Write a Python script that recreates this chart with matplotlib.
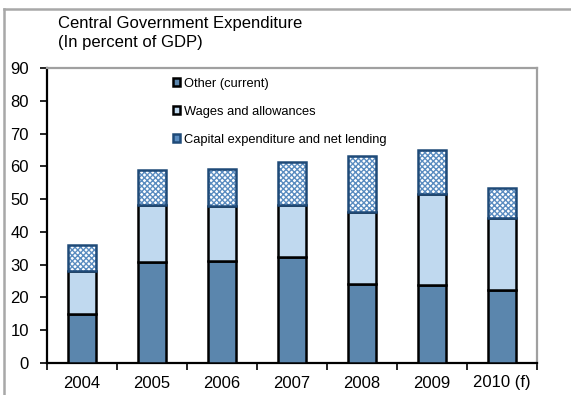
import matplotlib
matplotlib.use("Agg")
import matplotlib.pyplot as plt
from matplotlib.patches import Patch
from matplotlib.lines import Line2D
import numpy as np

plt.rcParams['font.family'] = ['Liberation Sans', 'DejaVu Sans']
plt.rcParams['hatch.linewidth'] = 1.0

years = ["2004", "2005", "2006", "2007", "2008", "2009", "2010 (f)"]
other_current = [15.0, 30.8, 31.2, 32.3, 24.2, 23.8, 22.2]
wages = [13.0, 17.4, 16.6, 16.0, 21.8, 27.9, 22.0]
capital = [8.0, 10.8, 11.5, 13.1, 17.1, 13.3, 9.1]
yticks = list(range(0, 91, 10))

OTHER_COLOR = "#5b86ad"
WAGES_COLOR = "#c0d9ef"
CAP_HATCH = "#5a8cc0"
CAP_EDGE = "#1f4a78"

fig = plt.figure(figsize=(5.71, 3.95), dpi=100)
ax = fig.add_axes([47 / 571, 1 - 363 / 395, (537 - 47) / 571, (363 - 68) / 395])

x = np.arange(len(years))
w = 0.4
ax.bar(x, other_current, w, color=OTHER_COLOR, edgecolor="black", linewidth=1.8, zorder=3)
ax.bar(x, wages, w, bottom=other_current, color=WAGES_COLOR, edgecolor="black",
       linewidth=1.8, zorder=3)
bottom3 = np.array(other_current) + np.array(wages)
# hatched fill first, then a navy outline on top
ax.bar(x, capital, w, bottom=bottom3, color="white", edgecolor=CAP_HATCH,
       hatch="xxxxxx", linewidth=0, zorder=3)
ax.bar(x, capital, w, bottom=bottom3, fill=False, edgecolor=CAP_EDGE,
       linewidth=1.8, zorder=4)

ax.set_xlim(-0.5, len(years) - 0.5)
ax.set_ylim(0, 90)
ax.set_yticks(yticks)
ax.set_xticks(x)
ax.set_xticklabels(years)
ax.set_xticks(np.arange(-0.5, len(years), 1.0), minor=True)
ax.tick_params(axis="x", which="major", length=0, pad=9, labelsize=12)
ax.tick_params(axis="x", which="minor", length=5, width=1.2, direction="out", color="black")
ax.tick_params(axis="y", length=5, width=1.2, direction="out", labelsize=12, pad=8)

for side in ("top", "right"):
    ax.spines[side].set_color("#a0a0a0")
    ax.spines[side].set_linewidth(1.6)
for side in ("left", "bottom"):
    ax.spines[side].set_color("black")
    ax.spines[side].set_linewidth(1.6)

handles = [
    Patch(facecolor=OTHER_COLOR, edgecolor="black", linewidth=1.8, label="Other (current)"),
    Patch(facecolor=WAGES_COLOR, edgecolor="black", linewidth=1.8, label="Wages and allowances"),
    Patch(facecolor=CAP_HATCH, edgecolor=CAP_EDGE, linewidth=1.8,
          label="Capital expenditure and net lending"),
]
ax.legend(handles=handles, loc="upper left", bbox_to_anchor=(0.247, 0.985), frameon=False,
          fontsize=9.3, handlelength=0.55, handleheight=0.55, handletextpad=0.25,
          labelspacing=1.25, borderaxespad=0)

fig.text(58 / 571, 1 - 33 / 395, "Central Government Expenditure\n(In percent of GDP)",
         fontsize=12, va="center", ha="left", linespacing=1.4)

# outer frame: only the top and left edges fall inside the canvas
top_y = 1 - 9 / 395
left_x = 4 / 571
fig.add_artist(Line2D([left_x, 1.0], [top_y, top_y], transform=fig.transFigure,
                      color="#a8a8a8", linewidth=1.8))
fig.add_artist(Line2D([left_x, left_x], [0.0, top_y], transform=fig.transFigure,
                      color="#a8a8a8", linewidth=1.8))

fig.savefig("out.png", dpi=100)
